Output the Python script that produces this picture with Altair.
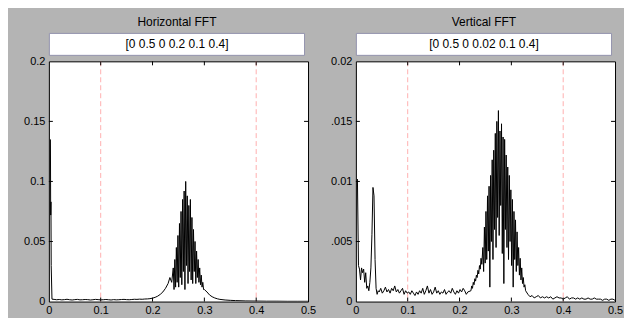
import altair as alt
import pandas as pd

# ---------------- data ----------------
x_ticks = [0, 0.1, 0.2, 0.3, 0.4, 0.5]
x_tick_labels = ["0", "0.1", "0.2", "0.3", "0.4", "0.5"]
band_edges = [0.1, 0.4]

h_title = "Horizontal FFT"
h_box = "[0 0.5 0 0.2 0.1 0.4]"
h_ymax = 0.2
h_yticks = [0, 0.05, 0.1, 0.15, 0.2]
h_ytick_labels = ["0", "0.05", "0.1", "0.15", "0.2"]

v_title = "Vertical FFT"
v_box = "[0 0.5 0 0.02 0.1 0.4]"
v_ymax = 0.02
v_yticks = [0, 0.005, 0.01, 0.015, 0.02]
v_ytick_labels = ["0", ".005", "0.01", ".015", "0.02"]

# Horizontal spectrum, in segments
h_dc_freq = [0.003, 0.0035, 0.004, 0.0045, 0.006]
h_dc_amp = [0.135, 0.072, 0.083, 0.03, 0.002]
h_floor_amp = [0.0018, 0.0015, 0.0017, 0.0014, 0.0016, 0.0019, 0.0015, 0.0013, 0.0016, 0.0018,
               0.0014, 0.0015, 0.0017, 0.0016, 0.0013, 0.0015, 0.0018, 0.0016, 0.0014, 0.0015,
               0.0017, 0.0015, 0.0013, 0.0016, 0.0014, 0.0015, 0.0017, 0.0018, 0.0016, 0.0015,
               0.0017, 0.0019, 0.0018, 0.002, 0.0019, 0.0021, 0.0022, 0.0024]
h_rise_freq = [0.2, 0.205, 0.21, 0.215, 0.22, 0.225, 0.23, 0.2335, 0.237]
h_rise_amp = [0.0028, 0.0035, 0.0045, 0.006, 0.008, 0.011, 0.015, 0.02, 0.016]
h_peak_amp = [0.028, 0.01, 0.035, 0.012, 0.045, 0.016, 0.055, 0.012, 0.065, 0.02,
              0.075, 0.014, 0.085, 0.025, 0.092, 0.01, 0.1, 0.03, 0.088, 0.015,
              0.08, 0.025, 0.085, 0.018, 0.07, 0.015, 0.06, 0.025, 0.05, 0.015,
              0.042, 0.02, 0.035, 0.016, 0.028, 0.014, 0.022, 0.012, 0.016, 0.01, 0.01]
h_tail_freq = [0.305, 0.31, 0.315, 0.32, 0.325, 0.33, 0.34, 0.35, 0.36, 0.38, 0.40, 0.42, 0.44, 0.46, 0.48, 0.5]
h_tail_amp = [0.008, 0.0055, 0.004, 0.003, 0.0023, 0.0018, 0.0013, 0.001, 0.0008, 0.0005,
              0.0004, 0.0003, 0.0003, 0.0002, 0.0002, 0.0002]

# Vertical spectrum
v_dc_amp = [0.0102, 0.003, 0.0027, 0.0018, 0.0028, 0.0024, 0.0027, 0.0016, 0.0024, 0.0011,
            0.0013, 0.0009, 0.0016, 0.0028, 0.0056, 0.0095, 0.0088, 0.0035, 0.0011, 0.0006, 0.0009]
v_floor_amp = [0.0008, 0.0011, 0.0007, 0.0009, 0.0012, 0.0008, 0.001, 0.0007, 0.0011, 0.0009,
               0.0013, 0.0008, 0.001, 0.0007, 0.0009, 0.0011, 0.0006, 0.0009, 0.0007, 0.0008,
               0.0006, 0.0009, 0.0007, 0.0005, 0.0008, 0.0006, 0.0009, 0.0007, 0.0011, 0.0006,
               0.0009, 0.0013, 0.0007, 0.001, 0.0006, 0.0008, 0.0012, 0.0007, 0.0009, 0.0006,
               0.0008, 0.0007, 0.001, 0.0006, 0.0008, 0.0009, 0.0007, 0.0011, 0.0008, 0.0006,
               0.0009, 0.0007, 0.001, 0.0008, 0.0011, 0.0009, 0.0006, 0.0008]
v_rise_amp = [0.0009, 0.0013, 0.0011, 0.0016, 0.0014, 0.0019, 0.0017, 0.0022, 0.002, 0.0026,
              0.0023, 0.003, 0.0027, 0.0036, 0.0031]
v_peak_amp = [0.0045, 0.0025, 0.0062, 0.0032, 0.0075, 0.0035, 0.0088, 0.0042, 0.0096, 0.0012,
              0.0105, 0.005, 0.0118, 0.0035, 0.0126, 0.006, 0.014, 0.0045, 0.015, 0.007,
              0.0159, 0.0055, 0.0142, 0.008, 0.0148, 0.004, 0.0137, 0.0015, 0.0135, 0.006,
              0.0122, 0.0045, 0.0112, 0.0035, 0.0105, 0.005, 0.0093, 0.003, 0.0085, 0.0012,
              0.0075, 0.0035, 0.0068, 0.0025, 0.0058, 0.003, 0.0045, 0.0022, 0.0036, 0.0018,
              0.0028, 0.0015, 0.002, 0.0012, 0.0014, 0.0009, 0.0008]
v_tail_amp = [0.0006, 0.0004, 0.0005, 0.0003, 0.0004, 0.0005, 0.0003, 0.0004, 0.0003, 0.0004,
              0.0003, 0.0004, 0.0002, 0.0003, 0.0004, 0.0003, 0.0003, 0.0002, 0.0003, 0.0004,
              0.0002, 0.0003, 0.0003, 0.0002, 0.0003, 0.0002, 0.0003, 0.0002, 0.0002, 0.0003,
              0.0002, 0.0002, 0.0003, 0.0002, 0.0002, 0.0002, 0.0001, 0.0002, 0.0002, 0.0001,
              0.0002, 0.0002, 0.0001]


def grid(start, step, vals):
    return [round(start + step * i, 5) for i in range(len(vals))]


h_freq = (h_dc_freq + grid(0.01, 0.005, h_floor_amp) + h_rise_freq
          + grid(0.24, 0.0015, h_peak_amp) + h_tail_freq)
h_amp = h_dc_amp + h_floor_amp + h_rise_amp + h_peak_amp + h_tail_amp

v_freq = (grid(0.003, 0.002, v_dc_amp) + grid(0.045, 0.003, v_floor_amp)
          + grid(0.222, 0.0015, v_rise_amp) + grid(0.245, 0.0015, v_peak_amp)
          + grid(0.332, 0.004, v_tail_amp))
v_amp = v_dc_amp + v_floor_amp + v_rise_amp + v_peak_amp + v_tail_amp

# ---------------- styling ----------------
W, H = 260, 241
FONT = "Liberation Sans"
BG = "#b4b4b4"


def label_expr(values, labels):
    expr = "''"
    for v, l in zip(values[::-1], labels[::-1]):
        expr = f"abs(datum.value - {v}) < 1e-9 ? '{l}' : ({expr})"
    return expr


def panel(freq, amp, ymax, yticks, ylabels, title, boxtext):
    df = pd.DataFrame({"f": freq, "a": amp})
    xs = alt.Scale(domain=[0, 0.5], nice=False, zero=False)
    ys = alt.Scale(domain=[0, ymax], nice=False, zero=False)
    xaxis = alt.Axis(values=x_ticks, labelExpr=label_expr(x_ticks, x_tick_labels),
                     ticks=False, grid=False, domain=False, title=None,
                     labelFontSize=11, labelFont=FONT, labelColor="black",
                     labelPadding=3, labelFlush=False)
    yaxis = alt.Axis(values=yticks, labelExpr=label_expr(yticks, ylabels),
                     ticks=False, grid=False, domain=False, title=None,
                     labelFontSize=11, labelFont=FONT, labelColor="black",
                     labelPadding=4, labelFlush=False)

    line = alt.Chart(df).mark_line(color="black", strokeWidth=1, clip=True).encode(
        x=alt.X("f:Q", scale=xs, axis=xaxis),
        y=alt.Y("a:Q", scale=ys, axis=yaxis),
    )
    rules = alt.Chart(pd.DataFrame({"f": band_edges})).mark_rule(
        color="#ffb0b0", strokeWidth=1, strokeDash=[5, 3]
    ).encode(x=alt.X("f:Q", scale=xs))

    xt = pd.DataFrame({"f": x_ticks[1:-1]})
    yt = pd.DataFrame({"a": yticks[1:-1]})
    tb = alt.Chart(xt).mark_rule(color="black").encode(
        x=alt.X("f:Q", scale=xs), y=alt.value(H), y2=alt.value(H - 4))
    tt = alt.Chart(xt).mark_rule(color="black").encode(
        x=alt.X("f:Q", scale=xs), y=alt.value(0), y2=alt.value(4))
    tl = alt.Chart(yt).mark_rule(color="black").encode(
        y=alt.Y("a:Q", scale=ys), x=alt.value(0), x2=alt.value(4))
    tr = alt.Chart(yt).mark_rule(color="black").encode(
        y=alt.Y("a:Q", scale=ys), x=alt.value(W), x2=alt.value(W - 4))

    one = pd.DataFrame({"k": [0]})
    box = alt.Chart(one).mark_rect(fill="white", stroke="#9494ae", strokeWidth=1).encode(
        x=alt.value(0.5), x2=alt.value(W - 3.5), y=alt.value(-28), y2=alt.value(-6))
    boxt = alt.Chart(one).mark_text(font=FONT, fontSize=12, color="black",
                                    align="center", baseline="middle").encode(
        x=alt.value((W - 3) / 2), y=alt.value(-17), text=alt.value(boxtext))
    tit = alt.Chart(one).mark_text(font=FONT, fontSize=12, color="black",
                                   align="center", baseline="middle").encode(
        x=alt.value((W - 3) / 2), y=alt.value(-39), text=alt.value(title))

    return alt.layer(rules, line, tb, tt, tl, tr, box, boxt, tit).properties(width=W, height=H)


left = panel(h_freq, h_amp, h_ymax, h_yticks, h_ytick_labels, h_title, h_box)
right = panel(v_freq, v_amp, v_ymax, v_yticks, v_ytick_labels, v_title, v_box)

chart = alt.hconcat(left, right, spacing=13).properties(
    background=BG,
    padding={"left": 15, "top": 7, "right": 0, "bottom": 1},
).configure_view(stroke="black", strokeWidth=1, fill="white")

chart.save("out.html", embed_options={"renderer": "svg", "actions": False})
